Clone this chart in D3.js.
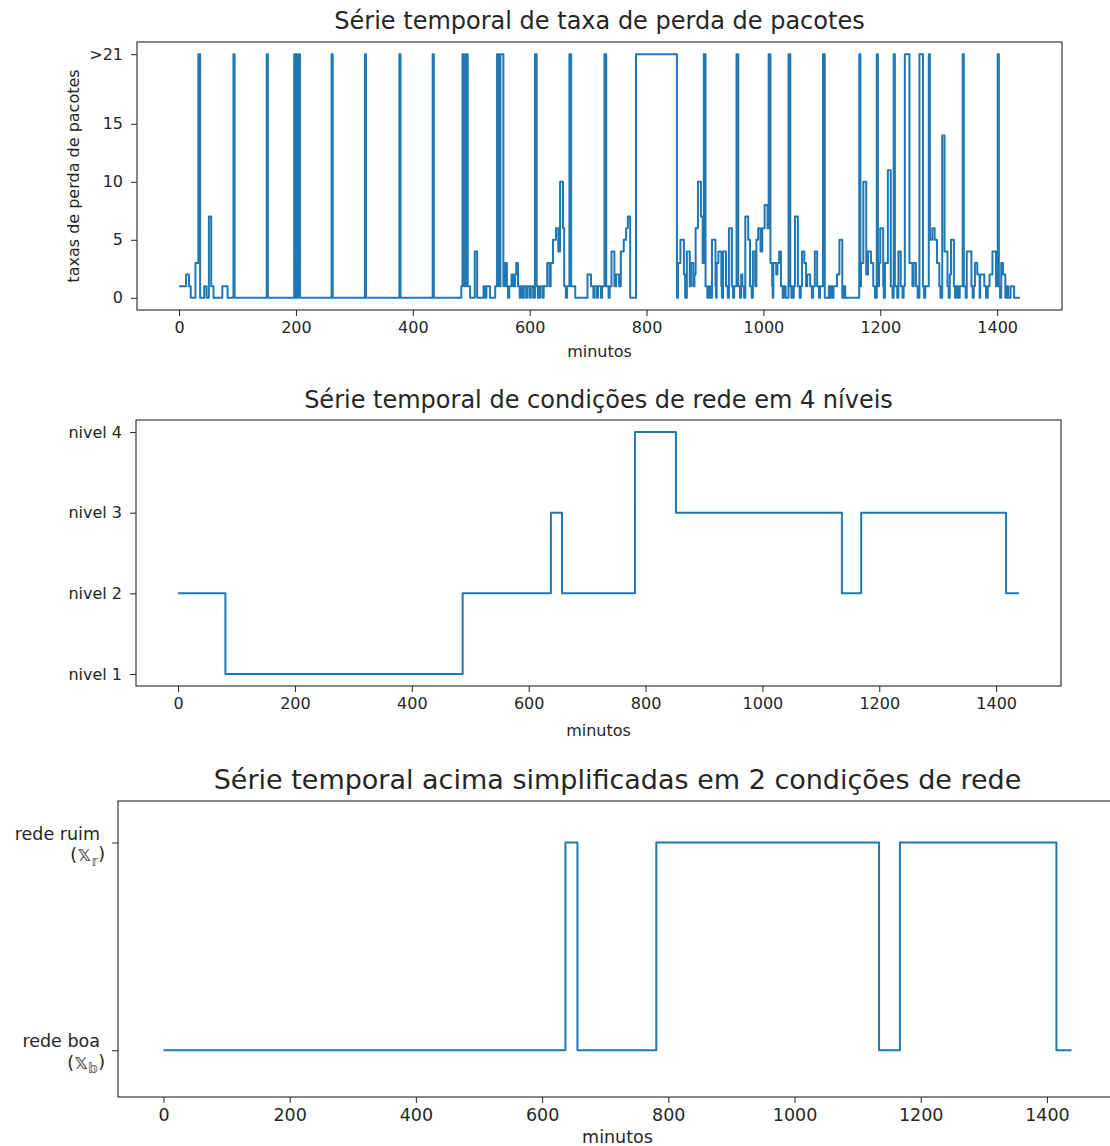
<!DOCTYPE html>
<html>
<head>
<meta charset="utf-8">
<script src="https://cdn.jsdelivr.net/npm/d3@7"></script>
<style>
	body { margin: 0; background: #fff; }
	svg { display: block; font-family: "DejaVu Sans", sans-serif; }
	.tick text { fill: #262626; }
	.tick line { stroke: #262626; }
</style>
</head>
<body>
<svg id="chart" width="1110" height="1146"></svg>
<script>
/* global d3 */

// taxa de perda de pacotes: [minuto, valor] onde o valor muda (21 = ">21")
var lossSteps = [
	[0, 1], [12, 2], [17, 1], [20, 0], [28, 3], [33, 21], [36, 0], [43, 1], [47, 0],
	[51, 7], [55, 1], [59, 0], [74, 1], [83, 0], [93, 21], [95, 0], [150, 21], [152, 0],
	[197, 21], [199, 0], [200, 21], [202, 0], [204, 21], [207, 0], [261, 21], [263, 0],
	[318, 21], [320, 0], [377, 21], [379, 0], [434, 21], [436, 0],
	[483, 1], [485, 21], [488, 1], [491, 21], [494, 1], [498, 0], [506, 4], [510, 0],
	[521, 1], [524, 0], [526, 1], [532, 0], [541, 1], [544, 21], [547, 1], [550, 21],
	[555, 1], [558, 3], [561, 1], [563, 0], [565, 1], [569, 2], [572, 1], [575, 2],
	[577, 3], [580, 1], [583, 0], [585, 1], [588, 0], [590, 1], [594, 0], [596, 1],
	[600, 0], [602, 1], [606, 0], [609, 21], [612, 1], [614, 0], [615, 1], [616, 0], [618, 1], [622, 0],
	[624, 1], [630, 3], [634, 1], [636, 3], [640, 5], [645, 6], [649, 4], [652, 10],
	[657, 6], [659, 1], [662, 0], [664, 1], [668, 21], [671, 1], [678, 0], [699, 2],
	[705, 1], [709, 0], [711, 1], [715, 0], [717, 1], [722, 0], [724, 1], [728, 21],
	[731, 1], [735, 0], [737, 1], [740, 4], [745, 1], [748, 2], [753, 1], [756, 4],
	[761, 5], [765, 6], [768, 7], [772, 0], [782, 21], [852, 0], [854, 3], [858, 5],
	[864, 2], [866, 0], [869, 4], [874, 1], [876, 3], [880, 1], [882, 2], [884, 6],
	[888, 10], [893, 7], [896, 3], [898, 21], [901, 1], [904, 0], [907, 1], [909, 0],
	[912, 5], [918, 1], [919, 0], [920, 3], [923, 4], [928, 1], [929, 0], [931, 4], [936, 1], [939, 0],
	[941, 6], [946, 1], [948, 0], [950, 1], [954, 21], [957, 1], [960, 0], [962, 2],
	[964, 1], [967, 0], [969, 7], [974, 5], [977, 1], [980, 0], [982, 4], [986, 1],
	[988, 5], [991, 6], [995, 4], [998, 6], [1002, 8], [1007, 6], [1009, 21], [1012, 3],
	[1015, 1], [1016, 0], [1017, 3], [1022, 2], [1024, 3], [1027, 4], [1030, 1], [1033, 0], [1035, 1],
	[1038, 0], [1043, 21], [1046, 1], [1048, 0], [1049, 1], [1050, 0], [1052, 1], [1054, 7], [1059, 1], [1062, 0],
	[1064, 1], [1066, 4], [1070, 3], [1073, 1], [1075, 2], [1080, 1], [1083, 0], [1085, 1],
	[1088, 4], [1092, 1], [1095, 0], [1097, 1], [1102, 21], [1105, 0], [1112, 1], [1114, 0], [1115, 1], [1118, 0],
	[1120, 1], [1126, 2], [1130, 5], [1135, 0], [1138, 1], [1140, 0],
	[1164, 21], [1166, 1], [1167, 3], [1171, 10], [1176, 2], [1179, 4], [1184, 3], [1188, 1],
	[1191, 0], [1194, 21], [1196, 1], [1198, 3], [1200, 6], [1205, 1], [1206, 0], [1208, 3], [1213, 11],
	[1218, 1], [1221, 0], [1223, 21], [1225, 1], [1229, 0], [1231, 4], [1235, 1], [1238, 0],
	[1240, 1], [1242, 21], [1250, 3], [1255, 1], [1257, 3], [1261, 1], [1264, 0], [1267, 21],
	[1273, 1], [1275, 0], [1277, 1], [1283, 21], [1285, 5], [1289, 6], [1293, 5], [1297, 3],
	[1301, 1], [1303, 0], [1306, 14], [1310, 4], [1315, 1], [1317, 0], [1319, 2], [1321, 5],
	[1326, 1], [1328, 0], [1330, 1], [1333, 0], [1336, 1], [1341, 21], [1343, 1], [1346, 0],
	[1348, 4], [1356, 1], [1358, 0], [1360, 1], [1362, 3], [1366, 2], [1370, 0], [1371, 2], [1378, 1], [1381, 0],
	[1384, 1], [1387, 2], [1392, 4], [1398, 1], [1401, 21], [1403, 1], [1405, 0], [1407, 3],
	[1410, 2], [1414, 0], [1417, 1], [1419, 0], [1423, 1], [1429, 0], [1439, 0]
];

// condições de rede em 4 níveis
var levelSteps = [
	[0, 2], [81, 1], [487, 2], [638, 3], [657, 2], [782, 4], [852, 3],
	[1136, 2], [1169, 3], [1417, 2], [1439, 2]
];

// 0 = rede boa, 1 = rede ruim
var binarySteps = [
	[0, 0], [637, 1], [656, 0], [781, 1], [1134, 0], [1167, 1], [1415, 0], [1439, 0]
];

var xTicks = [0, 200, 400, 600, 800, 1000, 1200, 1400],
	lossTicks = [0, 5, 10, 15, 21],
	lossTickLabels = ["0", "5", "10", "15", ">21"],
	levelTicks = [1, 2, 3, 4],
	levelTickLabels = ["nivel 1", "nivel 2", "nivel 3", "nivel 4"],
	binaryTicks = [0, 1],
	binaryTickLabels = [["rede boa", "\uD835\uDD69", "\uD835\uDD53"], ["rede ruim", "\uD835\uDD69", "\uD835\uDD63"]];

var svg = d3.select("#chart"),
	blue = "#1f77b4";

function drawPanel(o) {
	var x, y, g, line, yAxis;
	x = d3.scaleLinear().domain([-72, 1511]).range([o.left, o.right]);
	y = d3.scaleLinear().domain(o.yDomain).range([o.bottom, o.top]);

	g = svg.append("g");

	g.append("defs").append("clipPath")
		.attr("id", o.id + "-clip")
		.append("rect")
		.attr("x", o.left).attr("y", o.top)
		.attr("width", o.right - o.left).attr("height", o.bottom - o.top);

	line = d3.line()
		.curve(d3.curveStepAfter)
		.x(function(d) { return x(d[0]); })
		.y(function(d) { return y(d[1]); });

	g.append("path")
		.datum(o.data)
		.attr("clip-path", "url(#" + o.id + "-clip)")
		.attr("fill", "none")
		.attr("stroke", blue)
		.attr("stroke-width", o.lineWidth)
		.attr("stroke-linejoin", "round")
		.attr("d", line);

	g.append("g")
		.attr("transform", "translate(0," + o.bottom + ")")
		.call(d3.axisBottom(x).tickValues(xTicks).tickSize(6).tickPadding(6).tickFormat(d3.format("d")))
		.call(function(a) { a.select(".domain").remove(); })
		.selectAll("text")
		.attr("font-size", o.tickFont)
		.attr("font-family", "DejaVu Sans");

	yAxis = g.append("g")
		.attr("transform", "translate(" + o.left + ",0)")
		.call(d3.axisLeft(y).tickValues(o.yTicks).tickSize(6).tickPadding(8)
			.tickFormat(function(d, i) { return o.yLabels ? o.yLabels[i] : d; }))
		.call(function(a) { a.select(".domain").remove(); });
	yAxis.selectAll("text")
		.attr("font-size", o.tickFont)
		.attr("font-family", "DejaVu Sans");
	if (o.yFormatter) { o.yFormatter(yAxis); }

	g.append("rect")
		.attr("x", o.left).attr("y", o.top)
		.attr("width", o.right - o.left).attr("height", o.bottom - o.top)
		.attr("fill", "none")
		.attr("stroke", "#262626")
		.attr("stroke-width", 1.1);

	g.append("text")
		.attr("x", (o.left + o.right) / 2)
		.attr("y", o.top - o.titleGap)
		.attr("text-anchor", "middle")
		.attr("font-size", o.titleFont)
		.attr("fill", "#262626")
		.text(o.title);

	g.append("text")
		.attr("x", (o.left + o.right) / 2)
		.attr("y", o.bottom + o.xLabelOffset)
		.attr("text-anchor", "middle")
		.attr("font-size", o.tickFont)
		.attr("fill", "#262626")
		.text("minutos");

	if (o.yLabel) {
		g.append("text")
			.attr("transform", "translate(" + o.yLabelX + "," + ((o.top + o.bottom) / 2) + ") rotate(-90)")
			.attr("text-anchor", "middle")
			.attr("font-size", o.tickFont)
			.attr("fill", "#262626")
			.text(o.yLabel);
	}
}

drawPanel({
	id: "loss",
	data: lossSteps,
	left: 137, right: 1062, top: 42, bottom: 310,
	yDomain: [-1.05, 22.05],
	yTicks: lossTicks,
	yLabels: lossTickLabels,
	title: "Série temporal de taxa de perda de pacotes",
	titleFont: 24,
	titleGap: 13,
	tickFont: 16,
	xLabelOffset: 47,
	lineWidth: 2,
	yLabel: "taxas de perda de pacotes",
	yLabelX: 79
});

drawPanel({
	id: "level",
	data: levelSteps,
	left: 136, right: 1061, top: 420, bottom: 686,
	yDomain: [0.85, 4.15],
	yTicks: levelTicks,
	yLabels: levelTickLabels,
	title: "Série temporal de condições de rede em 4 níveis",
	titleFont: 24,
	titleGap: 12,
	tickFont: 16,
	xLabelOffset: 50,
	lineWidth: 2
});

drawPanel({
	id: "binary",
	data: binarySteps,
	left: 118, right: 1117, top: 801, bottom: 1097,
	yDomain: [-0.225, 1.2],
	yTicks: binaryTicks,
	title: "Série temporal acima simplificadas em 2 condições de rede",
	titleFont: 27,
	titleGap: 12,
	tickFont: 17.5,
	xLabelOffset: 46,
	lineWidth: 2,
	yFormatter: function(a) {
		a.selectAll(".tick text").each(function(d) {
			var t = d3.select(this),
				lab = binaryTickLabels[d],
				second;
			t.text(null).attr("dy", null);
			t.append("tspan").attr("x", -18).attr("dy", "-0.2em").text(lab[0]);
			second = t.append("tspan").attr("x", -13).attr("dy", "1.25em");
			second.append("tspan").text("(");
			second.append("tspan").attr("fill", "#555").attr("font-size", 21).text(lab[1]);
			second.append("tspan").attr("fill", "#555").attr("font-size", 14).attr("dy", "0.3em").text(lab[2]);
			second.append("tspan").attr("dy", "-0.3em").text(")");
		});
	}
});
</script>
</body>
</html>
